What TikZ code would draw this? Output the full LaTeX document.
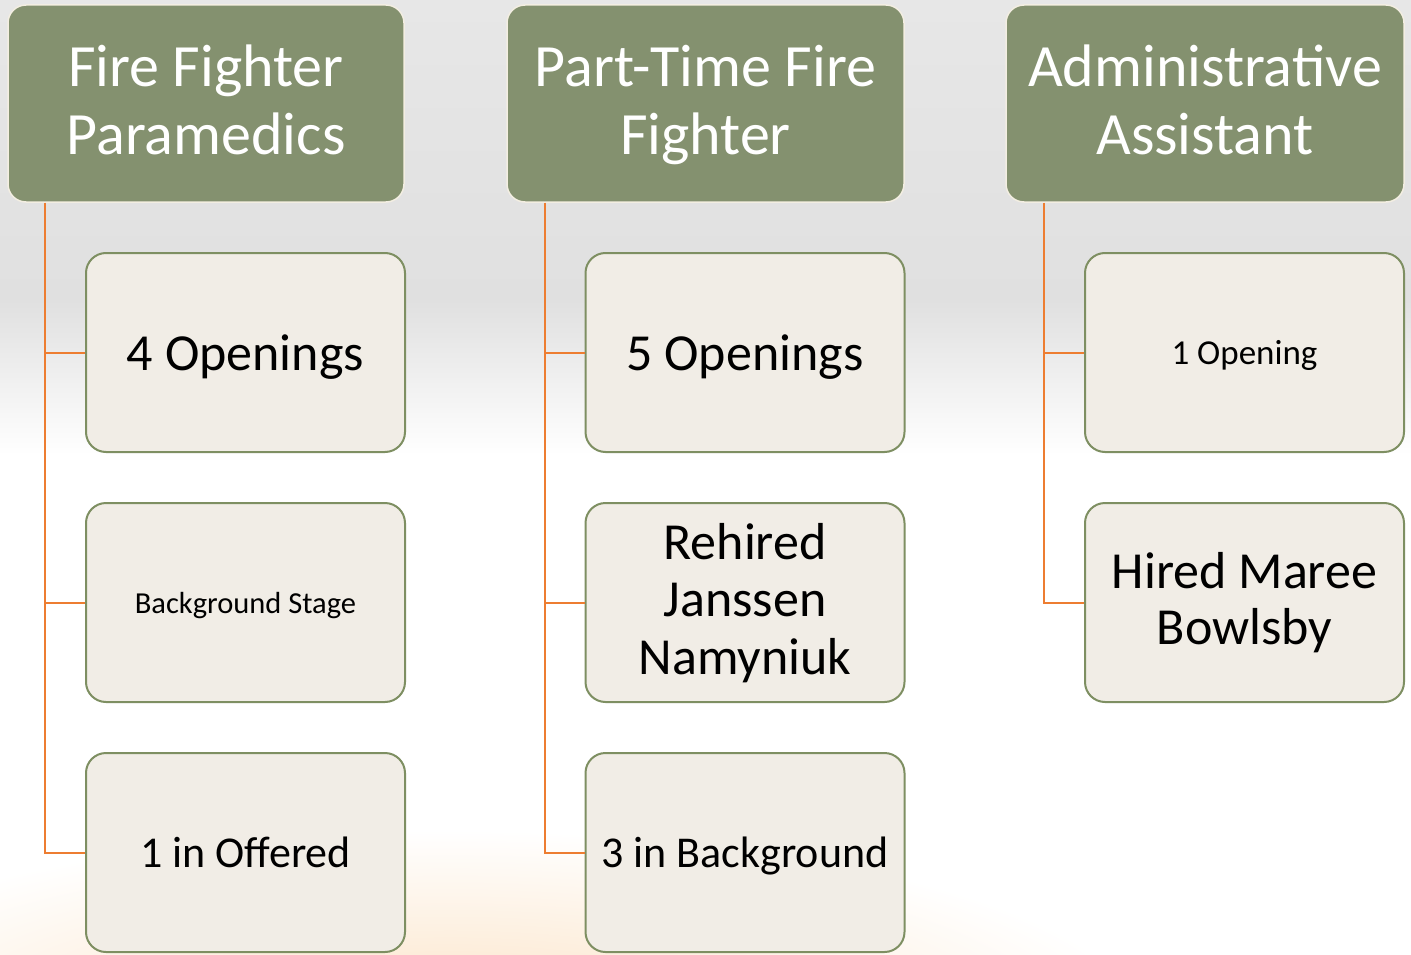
\documentclass[tikz,border=0pt]{standalone}
\usepackage{fontspec}
\setmainfont{Carlito}
\definecolor{hdrfill}{HTML}{84916F}
\definecolor{hdrdraw}{HTML}{F3EEE2}
\definecolor{boxfill}{HTML}{F1EDE6}
\definecolor{boxdraw}{HTML}{7E8F62}
\definecolor{conncol}{HTML}{ED7D31}
\definecolor{bgtop}{HTML}{E7E7E7}
\definecolor{bgmid}{HTML}{E0E0E0}
\definecolor{peach}{HTML}{FBE2C4}
\newcommand{\lnst}{\rule[-0.25em]{0pt}{1.2em}}
\newcommand{\lnsttop}{\rule[0pt]{0pt}{0.8em}}
\tikzset{
  hdr/.style={draw=hdrdraw, line width=1.5pt, fill=hdrfill, rounded corners=18pt,
    minimum width=396pt, minimum height=197pt, text=white, align=center,
    font=\fontsize{60}{68}\selectfont, inner sep=0pt},
  itembox/.style={draw=boxdraw, line width=2pt, fill=boxfill, rounded corners=20pt,
    minimum width=319pt, minimum height=199pt, text=black, align=center,
    font=\fontsize{52}{57.5}\selectfont, inner sep=0pt},
  conn/.style={draw=conncol, line width=2pt},
}
\begin{document}
\begin{tikzpicture}[x=1pt,y=-1pt]
\useasboundingbox (0,0) rectangle (1411,955);
% background
\fill[white] (0,0) rectangle (1411,955);
\shade[top color=bgtop, bottom color=bgmid] (0,0) rectangle (1411,300);
\shade[top color=bgmid, bottom color=white] (0,300) rectangle (1411,455);
\begin{scope}
\clip (0,0) rectangle (1411,955);
\shade[inner color=peach, outer color=white, draw=none] (450,1030) ellipse [x radius=700, y radius=200];
\end{scope}
% headers
\node[hdr] (h1) at (206,103.5) {\lnsttop Fire Fighter\\Paramedics\lnst};
\node[hdr, minimum width=397pt] (h2) at (705.5,103.5) {\lnsttop Part-Time Fire\\Fighter\lnst};
\node[hdr, minimum width=398pt] (h3) at (1205,103.5) {\lnsttop Administrative\\Assistant\lnst};
% column 1
\node[itembox] (c11) at (245.5,352.5) {\lnst 4 Openings};
\node[itembox, font=\fontsize{30.5}{36}\selectfont] (c12) at (245.5,602.5) {\lnst Background Stage};
\node[itembox, font=\fontsize{44}{50}\selectfont] (c13) at (245.5,852.5) {\lnst 1 in Offered};
% column 2
\node[itembox] (c21) at (745,352.5) {\lnst 5 Openings};
\node[itembox] (c22) at (745,602.5) {\lnsttop Rehired\\Janssen\\Namyniuk\lnst};
\node[itembox, font=\fontsize{44}{50}\selectfont] (c23) at (745,852.5) {\lnst 3 in Background};
% column 3
\node[itembox, font=\fontsize{35}{40}\selectfont] (c31) at (1244.5,352.5) {\lnst 1 Opening};
\node[itembox, font=\fontsize{52}{56}\selectfont] (c32) at (1244.5,602.5) {\lnsttop Hired Maree\\Bowlsby\lnst};
% connectors
\coordinate (t1) at ([xshift=38pt]h1.south west);
\coordinate (t2) at ([xshift=39pt]h2.south west);
\coordinate (t3) at ([xshift=39pt]h3.south west);
\draw[conn] (t1) |- (c11.west);
\draw[conn] (t1) |- (c12.west);
\draw[conn] (t1) |- (c13.west);
\draw[conn] (t2) |- (c21.west);
\draw[conn] (t2) |- (c22.west);
\draw[conn] (t2) |- (c23.west);
\draw[conn] (t3) |- (c31.west);
\draw[conn] (t3) |- (c32.west);
\end{tikzpicture}
\end{document}
